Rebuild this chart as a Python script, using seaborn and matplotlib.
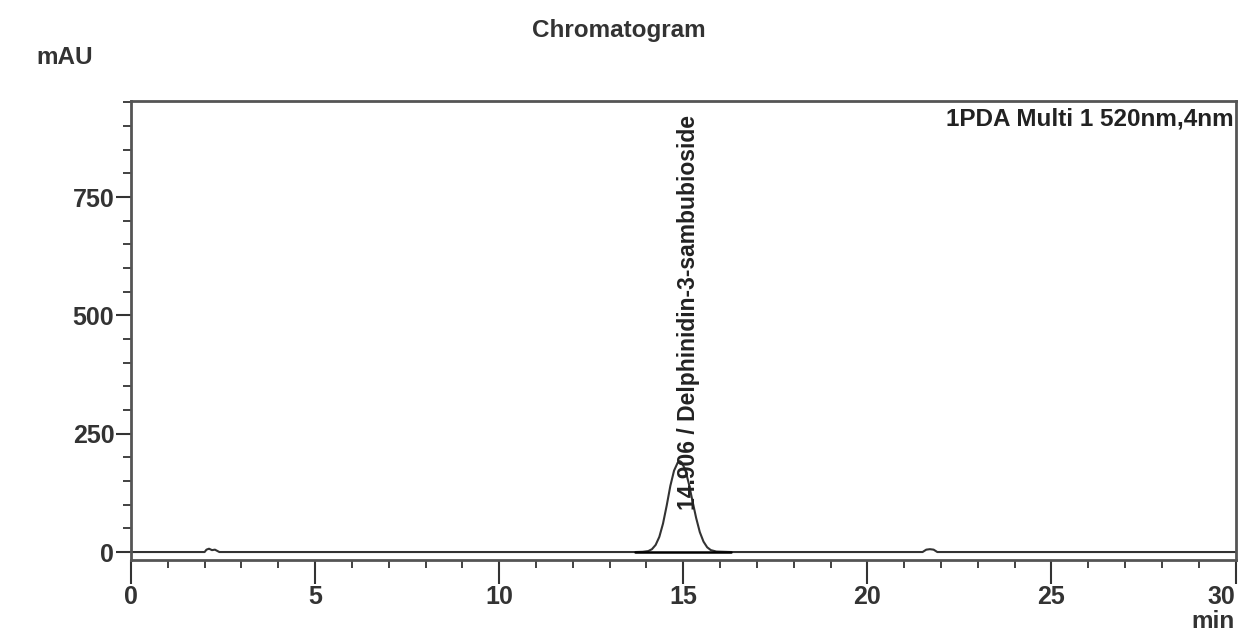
import matplotlib
matplotlib.use("Agg")
import matplotlib.pyplot as plt
import numpy as np
import pandas as pd
import seaborn as sns
from matplotlib.ticker import MultipleLocator

# Tín hiệu (phút, mAU)
time_min = [0.0, 2.0, 2.05, 2.12, 2.2, 2.28, 2.4, 13.7, 13.9, 14.05, 14.15, 14.25,
            14.35, 14.45, 14.55, 14.65, 14.75, 14.85, 14.906, 14.95, 15.05, 15.15,
            15.25, 15.35, 15.45, 15.55, 15.65, 15.75, 15.9, 16.3,
            21.5, 21.6, 21.7, 21.8, 21.9, 30.0]
signal_mau = [0, 0, 5, 7, 4, 5, 0, 0, 0.5, 2, 6, 15,
              32, 60, 98, 140, 172, 189, 192, 190, 175, 145,
              108, 72, 42, 22, 10, 4, 1, 0,
              0, 5, 6, 5, 0, 0]

peak_rt = 14.906
peak_name = "Delphinidin-3-sambubioside"
baseline_start, baseline_end = 13.7, 16.3

x_ticks = [0, 5, 10, 15, 20, 25, 30]
y_ticks = [0, 250, 500, 750]

sns.set_style("white")
plt.rcParams["font.family"] = ["Liberation Sans", "DejaVu Sans"]
plt.rcParams["font.weight"] = "bold"

df = pd.DataFrame({"time": time_min, "mAU": signal_mau})

fig = plt.figure(figsize=(12.38, 6.35), dpi=100)
ax = fig.add_axes([0.1058, 0.118, 0.8922, 0.723])

sns.lineplot(data=df, x="time", y="mAU", ax=ax, color="#333333", linewidth=1.5)
ax.plot([baseline_start, baseline_end], [0, 0], color="black", linewidth=1.8)

ax.set_xlim(0, 30)
ax.set_ylim(-17, 953)
ax.set_xticks(x_ticks)
ax.set_yticks(y_ticks)
ax.xaxis.set_minor_locator(MultipleLocator(1))
ax.yaxis.set_minor_locator(MultipleLocator(50))
ax.tick_params(axis="both", which="both", bottom=True, left=True, top=False, right=False)
ax.tick_params(axis="both", which="major", direction="out", labelsize=18,
               color="#333333", width=1.5)
ax.tick_params(axis="x", which="major", length=17, pad=1)
ax.tick_params(axis="y", which="major", length=11, pad=1)
ax.tick_params(axis="both", which="minor", direction="out", length=6,
               color="#333333", width=1.3)
for lbl in ax.get_xticklabels() + ax.get_yticklabels():
    lbl.set_fontweight("bold")
    lbl.set_color("#333333")
ax.get_xticklabels()[-1].set_horizontalalignment("right")

for spine in ax.spines.values():
    spine.set_color("#555555")
    spine.set_linewidth(2)

ax.set_xlabel("")
ax.set_ylabel("")

ax.text(15.15, 88, f"{peak_rt:.3f} / {peak_name}", rotation=90, ha="center",
        va="bottom", fontsize=16.5, fontweight="bold", color="#222222")
ax.text(0.998, 0.985, "1PDA Multi 1 520nm,4nm", transform=ax.transAxes,
        ha="right", va="top", fontsize=17.5, fontweight="bold", color="#222222")

fig.text(0.5, 0.952, "Chromatogram", ha="center", va="center", fontsize=17.5,
         fontweight="bold", color="#333333")
fig.text(0.029, 0.91, "mAU", ha="left", va="center", fontsize=17.5,
         fontweight="bold", color="#333333")
fig.text(0.997, 0.003, "min", ha="right", va="bottom", fontsize=17.5,
         fontweight="bold", color="#333333")

fig.savefig("out.png", dpi=100)
